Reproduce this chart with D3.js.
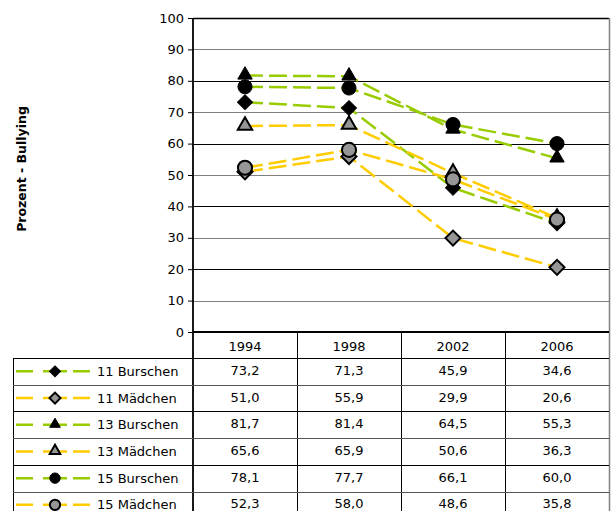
<!DOCTYPE html>
<html><head><meta charset="utf-8">
<script src="https://cdn.jsdelivr.net/npm/d3@7"></script>
<style>body{margin:0;background:#fff}svg{display:block}text{font-family:"DejaVu Sans",Verdana,sans-serif}</style>
</head><body><svg id="c" width="612" height="511"></svg>
<script>
const categories = ["1994","1998","2002","2006"];
const seriesNames = ["11 Burschen","11 Mädchen","13 Burschen","13 Mädchen","15 Burschen","15 Mädchen"];
const v11B = [73.2,71.3,45.9,34.6];
const v11M = [51.0,55.9,29.9,20.6];
const v13B = [81.7,81.4,64.5,55.3];
const v13M = [65.6,65.9,50.6,36.3];
const v15B = [78.1,77.7,66.1,60.0];
const v15M = [52.3,58.0,48.6,35.8];
const yTicks = [0,10,20,30,40,50,60,70,80,90,100];
const yTitle = "Prozent - Bullying";

const GREEN="#99cc00", YELLOW="#ffcc00", GRAY="#969696";
const series = [
  {name:seriesNames[0], values:v11B, color:GREEN, shape:"diamond", fill:"#000"},
  {name:seriesNames[1], values:v11M, color:YELLOW, shape:"diamond", fill:GRAY},
  {name:seriesNames[2], values:v13B, color:GREEN, shape:"triangle", fill:"#000"},
  {name:seriesNames[3], values:v13M, color:YELLOW, shape:"triangle", fill:GRAY},
  {name:seriesNames[4], values:v15B, color:GREEN, shape:"circle", fill:"#000"},
  {name:seriesNames[5], values:v15M, color:YELLOW, shape:"circle", fill:GRAY}
];

const L=193, R=609, T=18, B=332;
const svg=d3.select("#c");
const x=d3.scaleBand().domain(categories).range([L,R]);
const xc=c=>x(c)+x.bandwidth()/2;
const y=d3.scaleLinear().domain([0,100]).range([B,T]);

// gridlines
svg.append("g").selectAll("line").data(yTicks.filter(t=>t>0)).join("line")
  .attr("x1",L).attr("x2",R).attr("y1",d=>Math.round(y(d))+0.5).attr("y2",d=>Math.round(y(d))+0.5)
  .attr("stroke",d=>d%20===0?"#000":"#808080").attr("stroke-width",d=>d===100?1.5:1);

// right border
svg.append("line").attr("x1",R+0.5).attr("x2",R+0.5).attr("y1",T).attr("y2",511).attr("stroke","#808080").attr("stroke-width",1.5);

// y axis
const ya=svg.append("g").attr("transform",`translate(${L},0)`)
  .call(d3.axisLeft(y).tickValues(yTicks).tickSize(5).tickPadding(4));
ya.select(".domain").remove();
ya.selectAll("line").attr("stroke","#000");
ya.selectAll("text").attr("font-size","13px").attr("fill","#000").style("font-family",'"DejaVu Sans",Verdana,sans-serif');
svg.append("line").attr("x1",L).attr("x2",L).attr("y1",T).attr("y2",511).attr("stroke","#000").attr("stroke-width",1.8);

svg.append("text").attr("transform",`translate(26,169) rotate(-90)`).attr("text-anchor","middle")
  .attr("font-size","12.5px").attr("font-weight","bold").text(yTitle);

// lines
const line=d3.line().x((d,i)=>xc(categories[i])).y(d=>y(d));
series.forEach(s=>{
  svg.append("path").attr("d",line(s.values)).attr("fill","none").attr("stroke",s.color)
    .attr("stroke-width",2.5).attr("stroke-dasharray","18,6");
});
function marker(g,s,size){
  let el;
  if(s.shape==="circle") el=g.append("circle").attr("r",size*0.47);
  else el=g.append("path").attr("d",d3.symbol().type(s.shape==="diamond"?d3.symbolSquare:d3.symbolTriangle).size(s.shape==="diamond"?size*size*0.5:size*size*0.4)())
    .attr("transform",s.shape==="diamond"?"rotate(45)":"translate(0,-0.5)");
  el.attr("fill",s.fill).attr("stroke","#000").attr("stroke-width",s.fill==="#000"?1:2);
}
series.forEach(s=>{
  s.values.forEach((v,i)=>{
    const g=svg.append("g").attr("transform",`translate(${xc(categories[i])},${y(v)})`);
    marker(g,s,15);
  });
});

// table
const rowH=26.7, headTop=B, headH=26;
const rowTop=i=>headTop+headH+i*rowH;
svg.append("line").attr("x1",L).attr("x2",R).attr("y1",B).attr("y2",B).attr("stroke","#000").attr("stroke-width",2);
categories.forEach((c,i)=>{
  svg.append("text").attr("x",xc(c)).attr("y",headTop+headH/2+1).attr("text-anchor","middle").attr("dominant-baseline","central")
    .attr("font-size","13px").text(c);
  if(i>0) svg.append("line").attr("x1",x(c)+0.5).attr("x2",x(c)+0.5).attr("y1",B).attr("y2",511).attr("stroke","#000");
});
svg.append("line").attr("x1",13.5).attr("x2",13.5).attr("y1",rowTop(0)).attr("y2",511).attr("stroke","#000");
series.forEach((s,i)=>{
  const ty=rowTop(i);
  svg.append("line").attr("x1",13).attr("x2",R).attr("y1",Math.round(ty)+0.5).attr("y2",Math.round(ty)+0.5)
    .attr("stroke",i%2===0?"#000":"#555");
  const cy=ty+rowH/2;
  svg.append("line").attr("x1",16).attr("x2",91).attr("y1",cy).attr("y2",cy).attr("stroke",s.color)
    .attr("stroke-width",2.5).attr("stroke-dasharray","17,10,24,6,17");
  const g=svg.append("g").attr("transform",`translate(55,${cy})`);
  marker(g,s,11);
  svg.append("text").attr("x",97).attr("y",cy).attr("dominant-baseline","central").attr("font-size","13px").text(s.name);
  s.values.forEach((v,j)=>{
    svg.append("text").attr("x",xc(categories[j])).attr("y",cy-1).attr("text-anchor","middle").attr("dominant-baseline","central")
      .attr("font-size","13px").text(d3.format(".1f")(v).replace(".",","));
  });
});
</script></body></html>
